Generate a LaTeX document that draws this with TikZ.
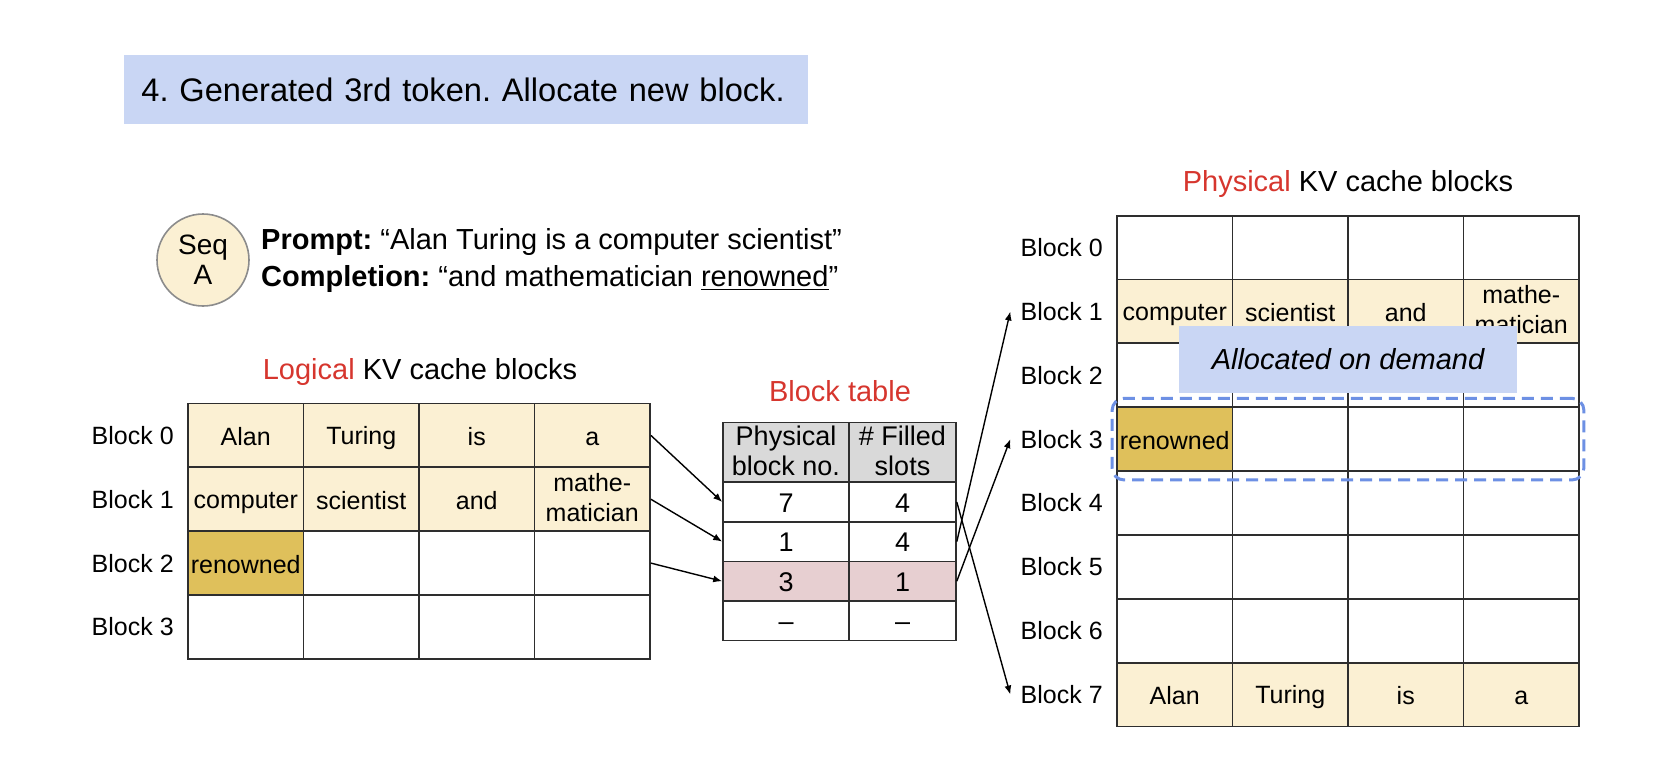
\documentclass[tikz,border=0pt]{standalone}
\usepackage{fontspec}
\setmainfont{Liberation Sans}
\frenchspacing
\usetikzlibrary{arrows.meta,positioning,fit,calc}
\definecolor{notefill}{HTML}{C9D6F4}
\definecolor{tokfill}{HTML}{FBF0D3}
\definecolor{newfill}{HTML}{DFC05B}
\definecolor{rowpink}{HTML}{E7CFD1}
\definecolor{headgray}{HTML}{D9D9D9}
\definecolor{kvred}{HTML}{D6362E}
\definecolor{dashblue}{HTML}{6D90E4}
\definecolor{gridline}{HTML}{2E2E2E}
\definecolor{seqedge}{HTML}{8C8C8C}
\newcommand{\cellstrut}{\rule[-2pt]{0pt}{14pt}}
\tikzset{
  cell/.style={draw=gridline, line width=0.9pt, minimum width=57.75pt, minimum height=31.925pt, inner sep=0pt, align=center, font=\fontsize{12.5}{15}\selectfont, execute at begin node=\cellstrut, execute at end node=\cellstrut},
  tok/.style={fill=tokfill},
  newtok/.style={fill=newfill},
  free/.style={fill=white},
  hot/.style={fill=rowpink},
  thead/.style={fill=headgray, minimum height=29.65pt},
  tcell/.style={draw=gridline, line width=0.8pt, inner sep=0pt, align=center, minimum height=19.8pt, font=\fontsize{13.5}{15}\selectfont, execute at begin node=\cellstrut, execute at end node=\cellstrut},
  rowlbl/.style={inner xsep=5pt, inner ysep=1pt, font=\fontsize{12.5}{15}\selectfont},
  heading/.style={font=\fontsize{14.5}{17}\selectfont},
  notebox/.style={fill=notefill, inner sep=0pt},
  demand/.style={draw=dashblue, line width=1.5pt, dash pattern=on 6pt off 3.5pt, rounded corners=6pt},
  arrow/.style={-{Latex[length=4.5pt, width=3.5pt]}, line width=0.7pt, draw=black}
}

\begin{document}
\begin{tikzpicture}[x=0.5pt, y=-0.5pt]
  \useasboundingbox (0,0) rectangle (1666,778);

  % step banner
  \node[notebox, anchor=north west, minimum height=34.5pt, text width=330pt, inner xsep=6pt, align=left, font=\fontsize{16.3}{19}\selectfont] (title) at (124,55) {\hspace*{2.5pt}4. Generated 3rd token. Allocate new block.};

  % sequence and its text
  \node[circle, draw=seqedge, line width=0.8pt, fill=tokfill, minimum size=46pt, inner sep=0pt, align=center, font=\fontsize{14}{15}\selectfont] (seq) at (203,260) {Seq\\A};
  \node[right=5.5pt of seq, inner sep=0pt, align=left, font=\fontsize{14.5}{18.5}\selectfont] (prompt) {\textbf{Prompt:} “Alan Turing is a computer scientist”\\
\textbf{Completion:} “and mathematician \underline{renowned}”};

  % logical blocks
  \node[heading] (lgtitle) at (420,372) {{\color{kvred}Logical} KV cache blocks};
  \foreach \r/\c/\txt/\sty in {0/0/Alan/tok, 0/1/Turing/tok, 0/2/is/tok, 0/3/a/tok,
      1/0/computer/tok, 1/1/scientist/tok, 1/2/and/tok, 1/3/{mathe-\\matician}/tok,
      2/0/renowned/newtok, 2/1//free, 2/2//free, 2/3//free,
      3/0//free, 3/1//free, 3/2//free, 3/3//free}
    \node[cell, \sty] (lg-\r-\c) at ({245.75+115.5*\c},{435.4+63.85*\r}) {\txt};
  \foreach \r in {0,...,3}
    \node[rowlbl, left=1.5pt of lg-\r-0] (lb-\r) {Block \r};

  % block table
  \node[heading, text=kvred] (bttitle) at (840,391) {Block table};
  \node[tcell, thead, minimum width=63pt] (bt-h-0) at (786,452.3) {Physical\\block no.};
  \node[tcell, thead, minimum width=53.5pt] (bt-h-1) at (902.5,452.3) {\# Filled\\slots};
  \foreach \r/\pb/\ns/\sty in {0/7/4/free, 1/1/4/free, 2/3/1/hot, 3/–/–/free} {
    \node[tcell, \sty, minimum width=63pt] (bt-\r-0) at (786,{502+39.6*\r}) {\pb};
    \node[tcell, \sty, minimum width=53.5pt] (bt-\r-1) at (902.5,{502+39.6*\r}) {\ns};
  }

  % physical blocks
  \node[heading] (pgtitle) at (1348,184) {{\color{kvred}Physical} KV cache blocks};
  \foreach \r in {0,...,7}
    \foreach \c in {0,...,3}
      \node[cell, free] (pg-\r-\c) at ({1174.75+115.5*\c},{247.6+63.85*\r}) {};
  \foreach \r/\c/\txt/\sty in {1/0/computer/tok, 1/1/scientist/tok, 1/2/and/tok, 1/3/{mathe-\\matician}/tok,
      3/0/renowned/newtok,
      7/0/Alan/tok, 7/1/Turing/tok, 7/2/is/tok, 7/3/a/tok}
    \node[cell, \sty] (pg-\r-\c) at ({1174.75+115.5*\c},{247.6+63.85*\r}) {\txt};
  \foreach \r in {0,...,7}
    \node[rowlbl, left=1.5pt of pg-\r-0] (pb-\r) {Block \r};

  \node[notebox, minimum width=169pt, minimum height=33.5pt, font=\fontsize{14.5}{17}\selectfont\itshape] (alloc) at (1348,359.5) {Allocated on demand};
  \node[demand, fit=(pg-3-0)(pg-3-3), inner xsep=2pt, inner ysep=4pt] (newblk) {};

  % logical -> table
  \draw[arrow] (lg-0-3.east) -- (bt-0-0.west);
  \draw[arrow] (lg-1-3.east) -- (bt-1-0.west);
  \draw[arrow] (lg-2-3.east) -- (bt-2-0.west);
  % table -> physical
  \draw[arrow] (bt-0-1.east) -- (pb-7.west);
  \draw[arrow] (bt-1-1.east) -- (pb-1.west);
  \draw[arrow] (bt-2-1.east) -- (pb-3.west);
\end{tikzpicture}
\end{document}
